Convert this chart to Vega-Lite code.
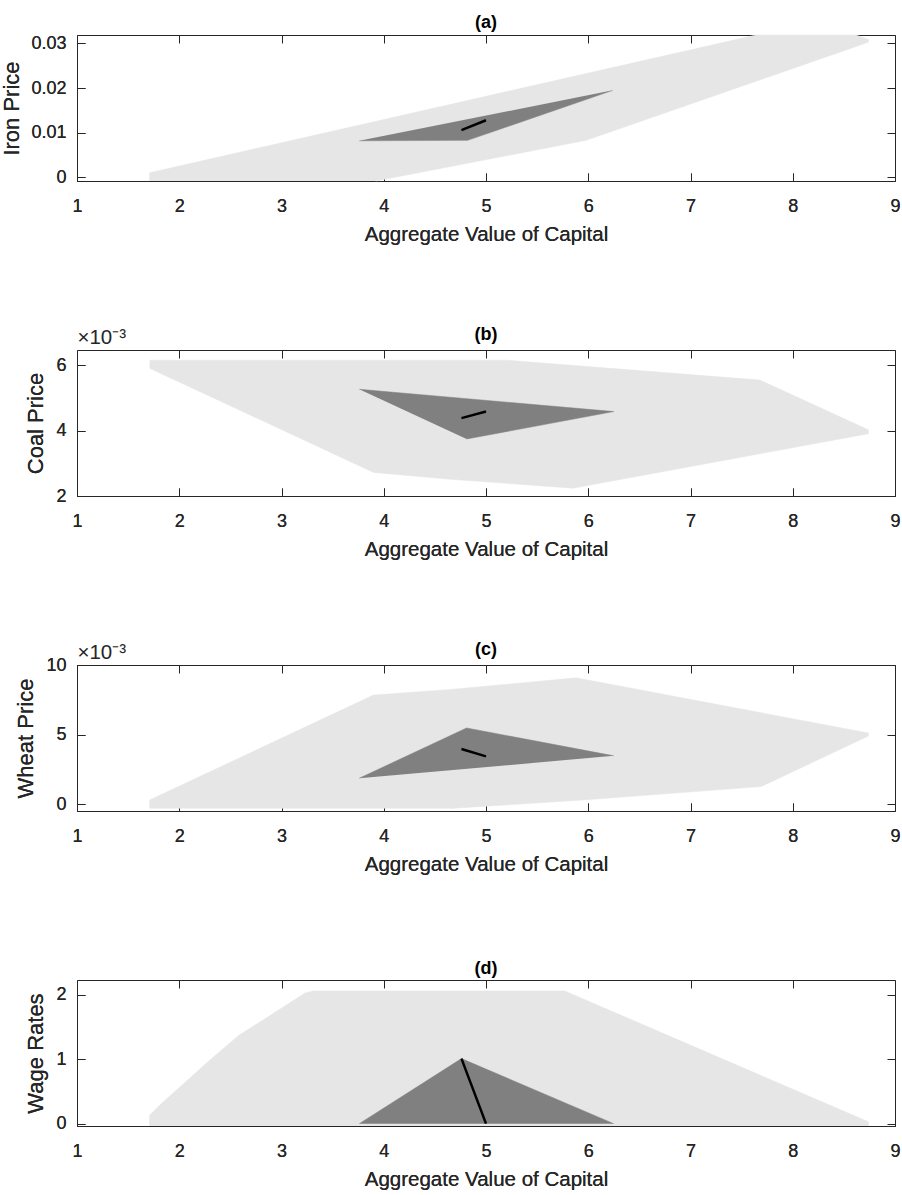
{
  "$schema": "https://vega.github.io/schema/vega-lite/v6.json",
  "padding": {"left": 0, "top": 13, "right": 0, "bottom": 0},
  "bounds": "flush",
  "spacing": 169,
  "config": {
    "font": "Liberation Sans",
    "view": {"stroke": "#262626", "strokeWidth": 1},
    "title": {"fontSize": 18, "fontWeight": "bold", "color": "#000000", "offset": 2, "anchor": "middle", "frame": "group"},
    "axis": {
      "domain": false,
      "grid": false,
      "tickColor": "#262626",
      "tickSize": -8,
      "labelColor": "#262626",
      "labelFontSize": 18,
      "titleColor": "#262626",
      "titleFontWeight": "normal",
      "labelFlush": false
    }
  },
  "vconcat": [
    {
      "width": 818,
      "height": 146,
      "title": "(a)",
      "data": {"values": [
        {"shape": "outer", "order": 1, "x": 1.71, "y": -0.0008},
        {"shape": "outer", "order": 2, "x": 1.71, "y": 0.00105},
        {"shape": "outer", "order": 3, "x": 7.64, "y": 0.0319},
        {"shape": "outer", "order": 4, "x": 8.62, "y": 0.0319},
        {"shape": "outer", "order": 5, "x": 8.74, "y": 0.0309},
        {"shape": "outer", "order": 6, "x": 8.74, "y": 0.0303},
        {"shape": "outer", "order": 7, "x": 5.98, "y": 0.0083},
        {"shape": "outer", "order": 8, "x": 3.92, "y": -0.0008},
        {"shape": "inner", "order": 1, "x": 3.76, "y": 0.0082},
        {"shape": "inner", "order": 2, "x": 4.82, "y": 0.0083},
        {"shape": "inner", "order": 3, "x": 6.24, "y": 0.0195},
        {"shape": "path", "order": 1, "x": 4.76, "y": 0.0106},
        {"shape": "path", "order": 2, "x": 5.0, "y": 0.0128}
      ]},
      "encoding": {
        "x": {"field": "x", "type": "quantitative", "scale": {"domain": [1, 9], "nice": false, "zero": false},
          "axis": {"orient": "bottom", "values": [1, 2, 3, 4, 5, 6, 7, 8, 9], "format": "d", "labelPadding": 24, "title": "Aggregate Value of Capital", "titleFontSize": 20.5, "titlePadding": 9}},
        "y": {"field": "y", "type": "quantitative", "scale": {"domain": [-0.0008, 0.0319], "nice": false, "zero": false},
          "axis": {"orient": "left", "values": [0, 0.01, 0.02, 0.03], "format": "~g", "labelPadding": 19, "title": "Iron Price", "titleFontSize": 22, "titlePadding": 7}}
      },
      "layer": [
        {"transform": [{"filter": "datum.shape == 'outer'"}], "mark": {"type": "line", "fill": "#e6e6e6", "stroke": "#e6e6e6", "strokeWidth": 0.5}, "encoding": {"order": {"field": "order"}}},
        {"transform": [{"filter": "datum.shape == 'inner'"}], "mark": {"type": "line", "fill": "#808080", "stroke": "#808080", "strokeWidth": 0.5},
          "encoding": {
            "order": {"field": "order"},
            "x": {"field": "x", "type": "quantitative", "axis": {"orient": "top", "values": [1, 2, 3, 4, 5, 6, 7, 8, 9], "labels": false, "title": null}},
            "y": {"field": "y", "type": "quantitative", "axis": {"orient": "right", "values": [0, 0.01, 0.02, 0.03], "labels": false, "title": null}}
          }},
        {"transform": [{"filter": "datum.shape == 'path'"}], "mark": {"type": "line", "stroke": "#000000", "strokeWidth": 2.5}, "encoding": {"order": {"field": "order"}}}
      ],
      "resolve": {"axis": {"x": "independent", "y": "independent"}}
    },
    {
      "width": 818,
      "height": 146,
      "title": {"text": "(b)", "offset": -16},
      "data": {"values": [
        {"shape": "outer", "order": 1, "x": 1.71, "y": 0.00615},
        {"shape": "outer", "order": 2, "x": 5.2, "y": 0.00615},
        {"shape": "outer", "order": 3, "x": 7.68, "y": 0.00554},
        {"shape": "outer", "order": 4, "x": 8.74, "y": 0.00402},
        {"shape": "outer", "order": 5, "x": 8.74, "y": 0.0039},
        {"shape": "outer", "order": 6, "x": 5.85, "y": 0.00224},
        {"shape": "outer", "order": 7, "x": 4.65, "y": 0.00251},
        {"shape": "outer", "order": 8, "x": 3.9, "y": 0.00272},
        {"shape": "outer", "order": 9, "x": 1.71, "y": 0.0059},
        {"shape": "inner", "order": 1, "x": 3.76, "y": 0.00526},
        {"shape": "inner", "order": 2, "x": 6.25, "y": 0.00458},
        {"shape": "inner", "order": 3, "x": 4.81, "y": 0.00374},
        {"shape": "path", "order": 1, "x": 4.76, "y": 0.00438},
        {"shape": "path", "order": 2, "x": 5.0, "y": 0.00458}
      ]},
      "encoding": {
        "x": {"field": "x", "type": "quantitative", "scale": {"domain": [1, 9], "nice": false, "zero": false},
          "axis": {"orient": "bottom", "values": [1, 2, 3, 4, 5, 6, 7, 8, 9], "format": "d", "labelPadding": 24, "title": "Aggregate Value of Capital", "titleFontSize": 20.5, "titlePadding": 9}},
        "y": {"field": "y", "type": "quantitative", "scale": {"domain": [0.002, 0.00646], "nice": false, "zero": false},
          "axis": {"orient": "left", "values": [0.002, 0.004, 0.006], "labelExpr": "format(datum.value * 1000, '~g')", "labelPadding": 19, "title": "Coal Price", "titleFontSize": 22, "titlePadding": 8}}
      },
      "layer": [
        {"transform": [{"filter": "datum.shape == 'outer'"}], "mark": {"type": "line", "fill": "#e6e6e6", "stroke": "#e6e6e6", "strokeWidth": 0.5}, "encoding": {"order": {"field": "order"}}},
        {"transform": [{"filter": "datum.shape == 'inner'"}], "mark": {"type": "line", "fill": "#808080", "stroke": "#808080", "strokeWidth": 0.5},
          "encoding": {
            "order": {"field": "order"},
            "x": {"field": "x", "type": "quantitative", "axis": {"orient": "top", "values": [1, 2, 3, 4, 5, 6, 7, 8, 9], "labels": false, "title": "×10⁻³", "titleAnchor": "start", "titleAlign": "left", "titleBaseline": "alphabetic", "titleFontSize": 20.5, "titlePadding": 6}},
            "y": {"field": "y", "type": "quantitative", "axis": {"orient": "right", "values": [0.002, 0.004, 0.006], "labels": false, "title": null}}
          }},
        {"transform": [{"filter": "datum.shape == 'path'"}], "mark": {"type": "line", "stroke": "#000000", "strokeWidth": 2.5}, "encoding": {"order": {"field": "order"}}}
      ],
      "resolve": {"axis": {"x": "independent", "y": "independent"}}
    },
    {
      "width": 818,
      "height": 146,
      "title": {"text": "(c)", "offset": -16},
      "data": {"values": [
        {"shape": "outer", "order": 1, "x": 1.71, "y": -0.0003},
        {"shape": "outer", "order": 2, "x": 1.71, "y": 0.00031},
        {"shape": "outer", "order": 3, "x": 3.9, "y": 0.00784},
        {"shape": "outer", "order": 4, "x": 4.65, "y": 0.00824},
        {"shape": "outer", "order": 5, "x": 5.88, "y": 0.00908},
        {"shape": "outer", "order": 6, "x": 8.74, "y": 0.00512},
        {"shape": "outer", "order": 7, "x": 8.74, "y": 0.0049},
        {"shape": "outer", "order": 8, "x": 7.69, "y": 0.00127},
        {"shape": "outer", "order": 9, "x": 5.95, "y": 0.00031},
        {"shape": "outer", "order": 10, "x": 4.65, "y": -0.0003},
        {"shape": "inner", "order": 1, "x": 3.76, "y": 0.00187},
        {"shape": "inner", "order": 2, "x": 4.81, "y": 0.00548},
        {"shape": "inner", "order": 3, "x": 6.25, "y": 0.00348},
        {"shape": "path", "order": 1, "x": 4.76, "y": 0.00397},
        {"shape": "path", "order": 2, "x": 5.0, "y": 0.00344}
      ]},
      "encoding": {
        "x": {"field": "x", "type": "quantitative", "scale": {"domain": [1, 9], "nice": false, "zero": false},
          "axis": {"orient": "bottom", "values": [1, 2, 3, 4, 5, 6, 7, 8, 9], "format": "d", "labelPadding": 24, "title": "Aggregate Value of Capital", "titleFontSize": 20.5, "titlePadding": 9}},
        "y": {"field": "y", "type": "quantitative", "scale": {"domain": [-0.00048, 0.01], "nice": false, "zero": false},
          "axis": {"orient": "left", "values": [0, 0.005, 0.01], "labelExpr": "format(datum.value * 1000, '~g')", "labelPadding": 19, "title": "Wheat Price", "titleFontSize": 22, "titlePadding": 8}}
      },
      "layer": [
        {"transform": [{"filter": "datum.shape == 'outer'"}], "mark": {"type": "line", "fill": "#e6e6e6", "stroke": "#e6e6e6", "strokeWidth": 0.5}, "encoding": {"order": {"field": "order"}}},
        {"transform": [{"filter": "datum.shape == 'inner'"}], "mark": {"type": "line", "fill": "#808080", "stroke": "#808080", "strokeWidth": 0.5},
          "encoding": {
            "order": {"field": "order"},
            "x": {"field": "x", "type": "quantitative", "axis": {"orient": "top", "values": [1, 2, 3, 4, 5, 6, 7, 8, 9], "labels": false, "title": "×10⁻³", "titleAnchor": "start", "titleAlign": "left", "titleBaseline": "alphabetic", "titleFontSize": 20.5, "titlePadding": 6}},
            "y": {"field": "y", "type": "quantitative", "axis": {"orient": "right", "values": [0, 0.005, 0.01], "labels": false, "title": null}}
          }},
        {"transform": [{"filter": "datum.shape == 'path'"}], "mark": {"type": "line", "stroke": "#000000", "strokeWidth": 2.5}, "encoding": {"order": {"field": "order"}}}
      ],
      "resolve": {"axis": {"x": "independent", "y": "independent"}}
    },
    {
      "width": 818,
      "height": 146,
      "title": "(d)",
      "data": {"values": [
        {"shape": "outer", "order": 1, "x": 1.71, "y": -0.036},
        {"shape": "outer", "order": 2, "x": 1.71, "y": 0.13},
        {"shape": "outer", "order": 3, "x": 1.81, "y": 0.29},
        {"shape": "outer", "order": 4, "x": 2.3, "y": 0.99},
        {"shape": "outer", "order": 5, "x": 2.59, "y": 1.38},
        {"shape": "outer", "order": 6, "x": 2.85, "y": 1.64},
        {"shape": "outer", "order": 7, "x": 3.23, "y": 2.03},
        {"shape": "outer", "order": 8, "x": 3.31, "y": 2.06},
        {"shape": "outer", "order": 9, "x": 5.77, "y": 2.06},
        {"shape": "outer", "order": 10, "x": 8.74, "y": 0.03},
        {"shape": "outer", "order": 11, "x": 8.74, "y": -0.036},
        {"shape": "inner", "order": 1, "x": 3.76, "y": 0},
        {"shape": "inner", "order": 2, "x": 4.76, "y": 1.01},
        {"shape": "inner", "order": 3, "x": 6.25, "y": 0},
        {"shape": "path", "order": 1, "x": 4.76, "y": 1.01},
        {"shape": "path", "order": 2, "x": 5.0, "y": 0}
      ]},
      "encoding": {
        "x": {"field": "x", "type": "quantitative", "scale": {"domain": [1, 9], "nice": false, "zero": false},
          "axis": {"orient": "bottom", "values": [1, 2, 3, 4, 5, 6, 7, 8, 9], "format": "d", "labelPadding": 24, "title": "Aggregate Value of Capital", "titleFontSize": 20.5, "titlePadding": 9}},
        "y": {"field": "y", "type": "quantitative", "scale": {"domain": [-0.036, 2.23], "nice": false, "zero": false},
          "axis": {"orient": "left", "values": [0, 1, 2], "format": "d", "labelPadding": 19, "title": "Wage Rates", "titleFontSize": 22, "titlePadding": 8}}
      },
      "layer": [
        {"transform": [{"filter": "datum.shape == 'outer'"}], "mark": {"type": "line", "fill": "#e6e6e6", "stroke": "#e6e6e6", "strokeWidth": 0.5}, "encoding": {"order": {"field": "order"}}},
        {"transform": [{"filter": "datum.shape == 'inner'"}], "mark": {"type": "line", "fill": "#808080", "stroke": "#808080", "strokeWidth": 0.5},
          "encoding": {
            "order": {"field": "order"},
            "x": {"field": "x", "type": "quantitative", "axis": {"orient": "top", "values": [1, 2, 3, 4, 5, 6, 7, 8, 9], "labels": false, "title": null}},
            "y": {"field": "y", "type": "quantitative", "axis": {"orient": "right", "values": [0, 1, 2], "labels": false, "title": null}}
          }},
        {"transform": [{"filter": "datum.shape == 'path'"}], "mark": {"type": "line", "stroke": "#000000", "strokeWidth": 2.5}, "encoding": {"order": {"field": "order"}}}
      ],
      "resolve": {"axis": {"x": "independent", "y": "independent"}}
    }
  ]
}
